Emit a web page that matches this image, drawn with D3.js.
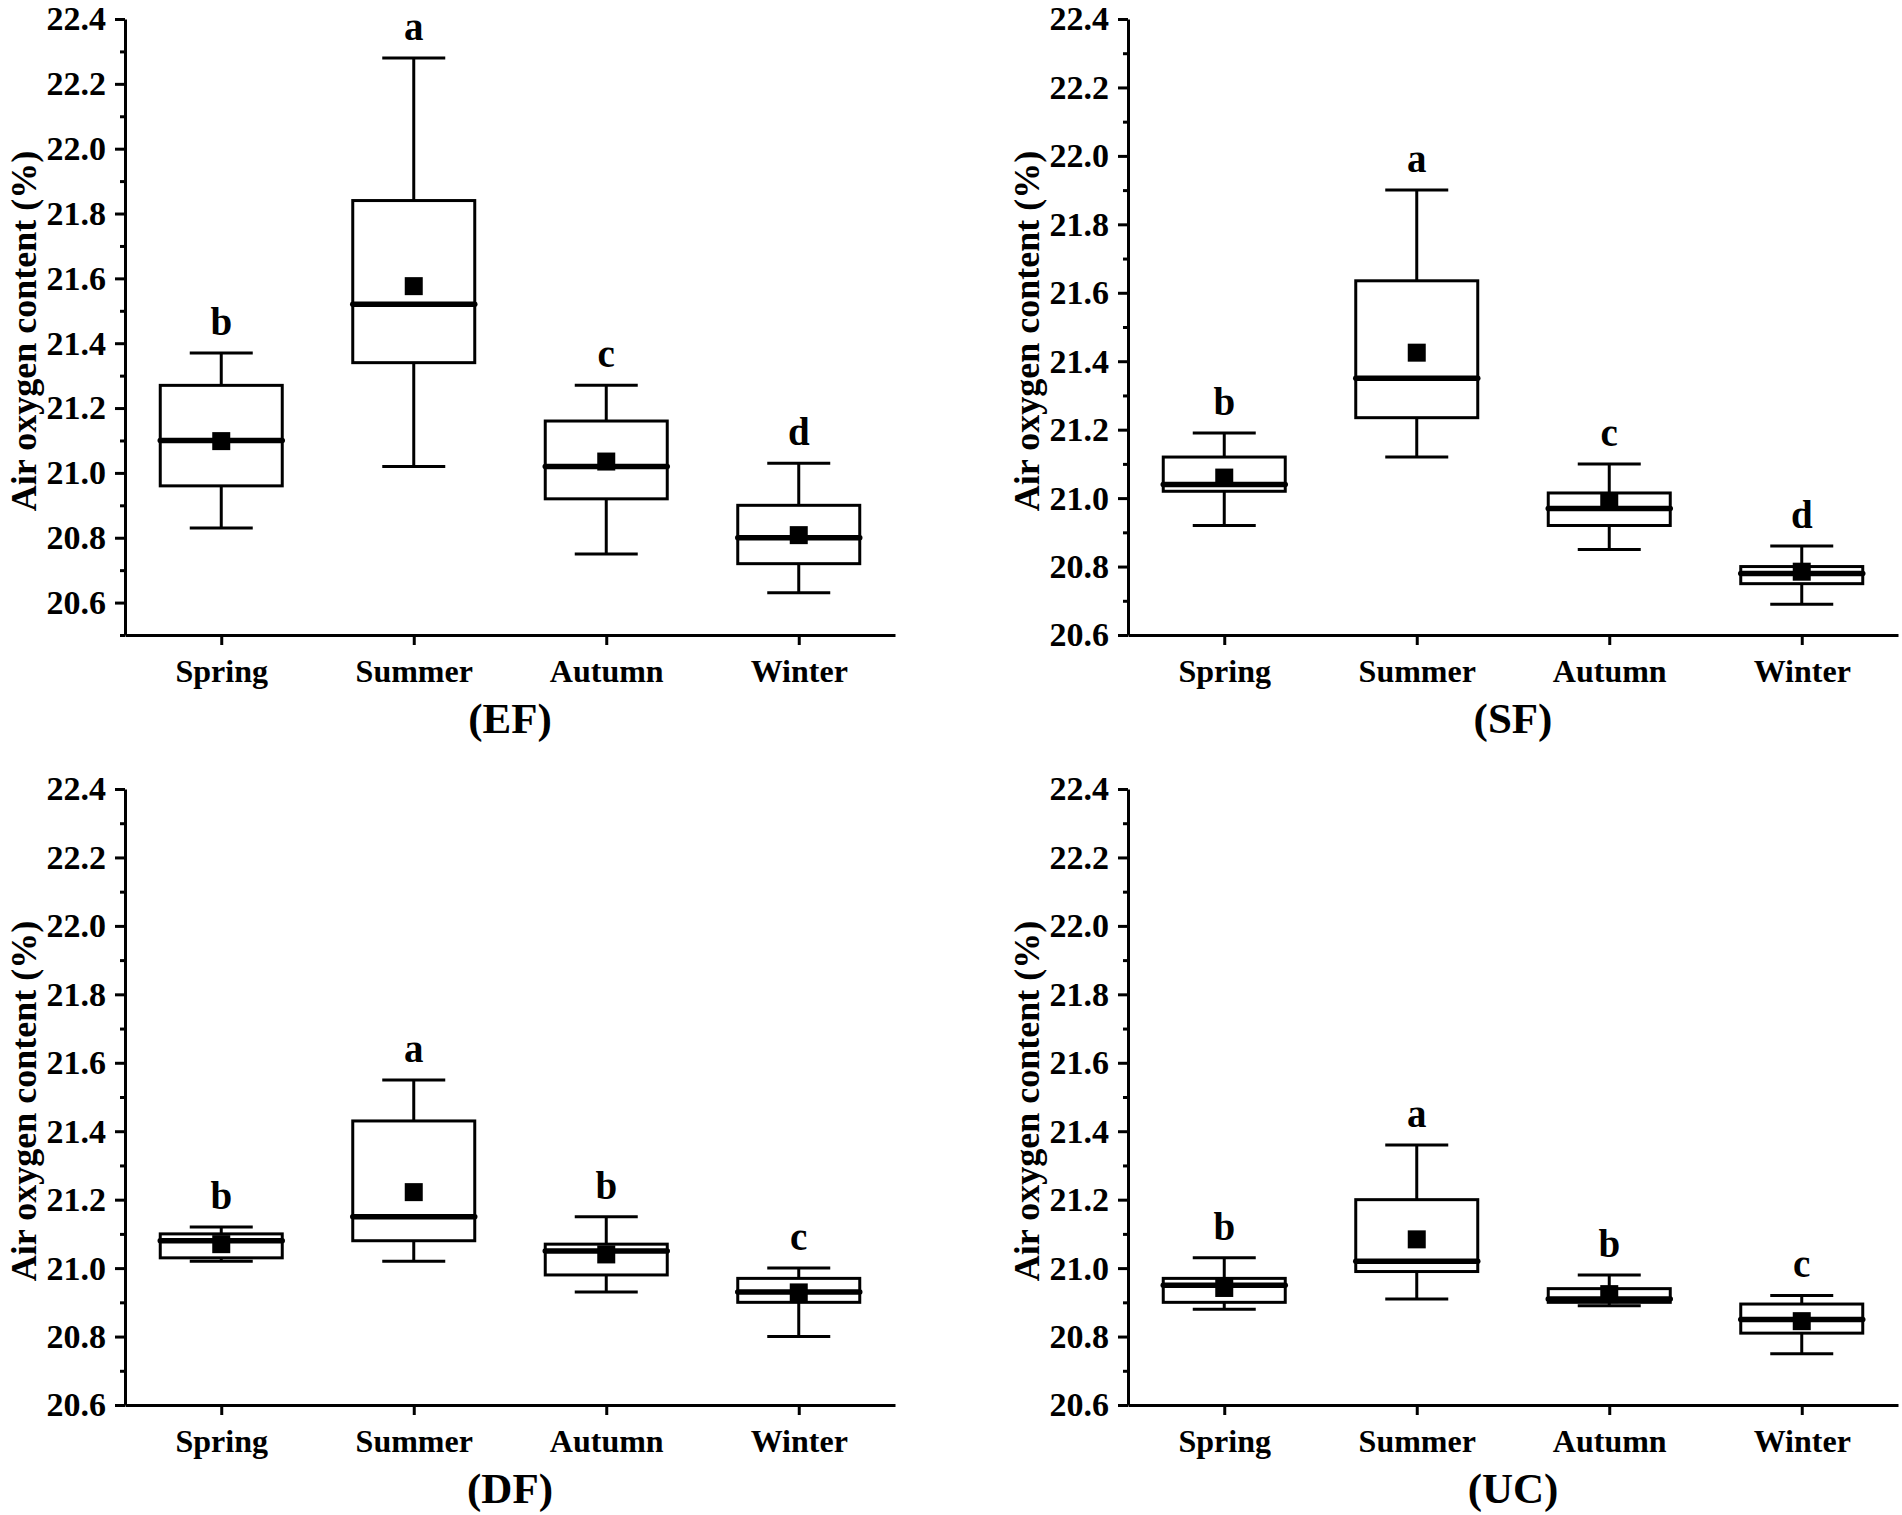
<!DOCTYPE html>
<html>
<head>
<meta charset="utf-8">
<script src="https://cdn.jsdelivr.net/npm/d3@7"></script>
<style>
  body { margin: 0; background: #fff; }
  svg { display: block; font-family: "Liberation Serif", "Times New Roman", serif; font-weight: bold; }
</style>
</head>
<body>
<div id="chart"></div>
<script>
const width = 1902;
const height = 1515;

const seasons = ["Spring", "Summer", "Autumn", "Winter"];
const panelNames = ["(EF)", "(SF)", "(DF)", "(UC)"];
const axisMin = [20.5, 20.6, 20.6, 20.6];
const axisMax = 22.4;

// rows = EF, SF, DF, UC ; columns = Spring, Summer, Autumn, Winter
const whiskerHigh = [
  [21.37, 22.28, 21.27, 21.03],
  [21.19, 21.90, 21.10, 20.86],
  [21.12, 21.55, 21.15, 21.00],
  [21.03, 21.36, 20.98, 20.92]
];
const q3 = [
  [21.27, 21.84, 21.16, 20.90],
  [21.12, 21.635, 21.015, 20.80],
  [21.10, 21.43, 21.07, 20.97],
  [20.97, 21.20, 20.94, 20.895]
];
const median = [
  [21.10, 21.52, 21.02, 20.80],
  [21.04, 21.35, 20.97, 20.78],
  [21.08, 21.15, 21.05, 20.93],
  [20.95, 21.02, 20.91, 20.85]
];
const q1 = [
  [20.96, 21.34, 20.92, 20.72],
  [21.02, 21.235, 20.92, 20.75],
  [21.03, 21.08, 20.98, 20.90],
  [20.90, 20.99, 20.90, 20.81]
];
const whiskerLow = [
  [20.83, 21.02, 20.75, 20.63],
  [20.92, 21.12, 20.85, 20.69],
  [21.02, 21.02, 20.93, 20.80],
  [20.88, 20.91, 20.89, 20.75]
];
const means = [
  [21.098, 21.576, 21.035, 20.808],
  [21.06, 21.425, 20.99, 20.785],
  [21.07, 21.222, 21.04, 20.929],
  [20.942, 21.084, 20.924, 20.845]
];
const letters = [
  ["b", "a", "c", "d"],
  ["b", "a", "c", "d"],
  ["b", "a", "b", "c"],
  ["b", "a", "b", "c"]
];

const majorTicks = [20.6, 20.8, 21.0, 21.2, 21.4, 21.6, 21.8, 22.0, 22.2, 22.4];
const minorTicks = [20.5, 20.7, 20.9, 21.1, 21.3, 21.5, 21.7, 21.9, 22.1, 22.3];

const svg = d3.select("#chart")
  .append("svg")
  .attr("width", width)
  .attr("height", height);

const panelLeft = [125, 1128, 125, 1128];
const panelTop = [19, 19, 789, 789];
const plotW = 770;
const plotH = 616;

const boxW = 122;
const capW = 63;
const markSize = 18;

panelNames.forEach((name, p) => {
  const g = svg.append("g")
    .attr("transform", "translate(" + panelLeft[p] + "," + panelTop[p] + ")");

  const x = d3.scaleLinear().domain([0.5, 4.5]).range([0, plotW]);
  const y = d3.scaleLinear().domain([axisMin[p], axisMax]).range([plotH, 0]);

  // minor ticks
  g.append("g")
    .attr("class", "axis")
    .call(d3.axisLeft(y).tickValues(minorTicks.filter(v => v >= axisMin[p])).tickSize(5).tickSizeOuter(0).tickFormat(""))
    .call(a => a.select(".domain").remove());

  const yAxis = g.append("g")
    .attr("class", "axis")
    .call(d3.axisLeft(y).tickValues(majorTicks).tickSize(10).tickSizeOuter(0).tickPadding(9).tickFormat(d3.format(".1f")));
  yAxis.selectAll("text").style("font-size", "34px");

  const xAxis = g.append("g")
    .attr("class", "axis")
    .attr("transform", "translate(0," + plotH + ")")
    .call(d3.axisBottom(x).tickValues([1, 2, 3, 4]).tickSize(10).tickSizeOuter(0).tickFormat(d => seasons[d - 1]));
  xAxis.selectAll("text")
    .attr("y", 47)
    .attr("dy", 0)
    .style("font-size", "32px");

  svg.selectAll(".axis path, .axis line")
    .attr("stroke", "#000")
    .attr("stroke-width", 3);
  svg.selectAll(".axis text").attr("fill", "#000").style("font-family", "Liberation Serif").style("font-weight", "bold");

  // y title
  g.append("text")
    .attr("transform", "translate(-89," + (plotH / 2 + 4) + ") rotate(-90)")
    .attr("text-anchor", "middle")
    .style("font-size", "36px")
    .text("Air oxygen content (%)");

  // panel title
  g.append("text")
    .attr("x", plotW / 2)
    .attr("y", plotH + 98)
    .attr("text-anchor", "middle")
    .style("font-size", "43px")
    .text(name);

  const boxes = g.selectAll(".box")
    .data(seasons.map((s, i) => i))
    .enter()
    .append("g")
    .attr("class", "box");

  // whiskers
  boxes.append("line")
    .attr("x1", i => x(i + 1)).attr("x2", i => x(i + 1))
    .attr("y1", i => y(whiskerHigh[p][i])).attr("y2", i => y(q3[p][i]))
    .attr("stroke", "#000").attr("stroke-width", 3);
  boxes.append("line")
    .attr("x1", i => x(i + 1)).attr("x2", i => x(i + 1))
    .attr("y1", i => y(q1[p][i])).attr("y2", i => y(whiskerLow[p][i]))
    .attr("stroke", "#000").attr("stroke-width", 3);
  boxes.append("line")
    .attr("x1", i => x(i + 1) - capW / 2).attr("x2", i => x(i + 1) + capW / 2)
    .attr("y1", i => y(whiskerHigh[p][i])).attr("y2", i => y(whiskerHigh[p][i]))
    .attr("stroke", "#000").attr("stroke-width", 3);
  boxes.append("line")
    .attr("x1", i => x(i + 1) - capW / 2).attr("x2", i => x(i + 1) + capW / 2)
    .attr("y1", i => y(whiskerLow[p][i])).attr("y2", i => y(whiskerLow[p][i]))
    .attr("stroke", "#000").attr("stroke-width", 3);

  // box
  boxes.append("rect")
    .attr("x", i => x(i + 1) - boxW / 2)
    .attr("y", i => y(q3[p][i]))
    .attr("width", boxW)
    .attr("height", i => y(q1[p][i]) - y(q3[p][i]))
    .attr("fill", "#fff")
    .attr("stroke", "#000")
    .attr("stroke-width", 3);

  // median
  boxes.append("line")
    .attr("x1", i => x(i + 1) - boxW / 2).attr("x2", i => x(i + 1) + boxW / 2)
    .attr("y1", i => y(median[p][i])).attr("y2", i => y(median[p][i]))
    .attr("stroke", "#000").attr("stroke-width", 5.5).attr("stroke-linecap", "round");

  // mean
  boxes.append("rect")
    .attr("x", i => x(i + 1) - markSize / 2)
    .attr("y", i => y(means[p][i]) - markSize / 2)
    .attr("width", markSize)
    .attr("height", markSize)
    .attr("fill", "#000");

  // significance letters
  boxes.append("text")
    .attr("x", i => x(i + 1))
    .attr("y", i => y(whiskerHigh[p][i]) - 18)
    .attr("text-anchor", "middle")
    .style("font-size", "39px")
    .text(i => letters[p][i]);
});
</script>
</body>
</html>
